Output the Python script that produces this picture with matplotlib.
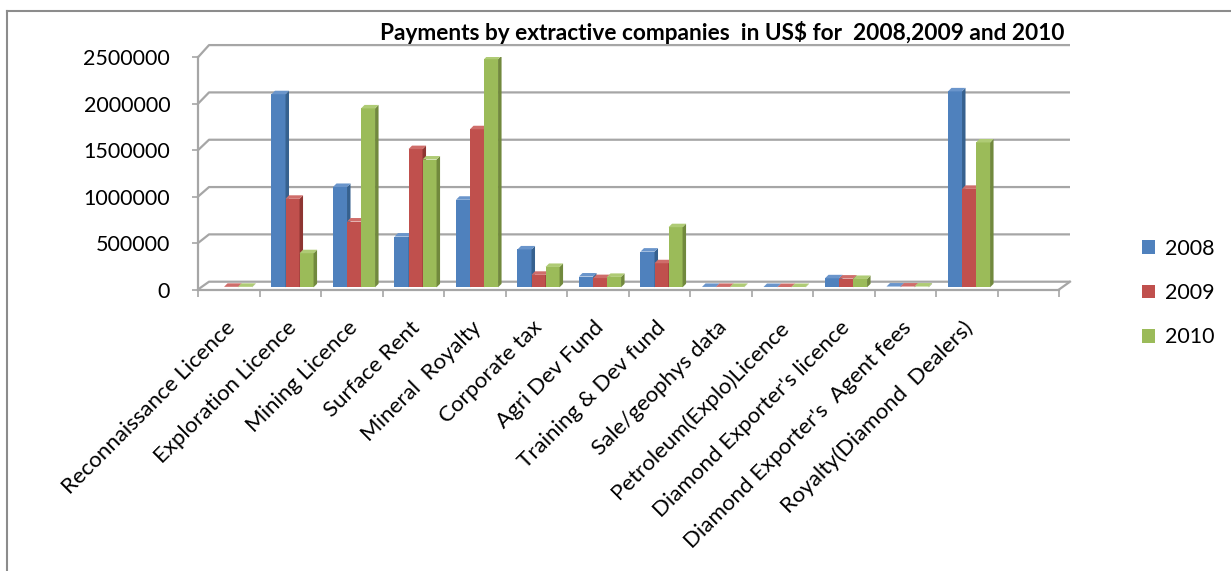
import numpy as np
import matplotlib
matplotlib.use("Agg")
from matplotlib import pyplot as plt
from matplotlib.patches import Polygon, Patch
from matplotlib.lines import Line2D
from matplotlib.transforms import ScaledTranslation

categories = ["Reconnaissance Licence", "Exploration Licence", "Mining Licence",
              "Surface Rent", "Mineral  Royalty", "Corporate tax", "Agri Dev Fund",
              "Training & Dev fund", "Sale/geophys data", "Petroleum(Explo)Licence",
              "Diamond Exporter's licence", "Diamond Exporter's  Agent fees",
              "Royalty(Diamond  Dealers)"]
years = ["2008", "2009", "2010"]
pay_2008 = [0, 2040000, 1060000, 536000, 925000, 400000, 114000, 377000,
            4000, 3000, 95000, 8000, 2070000]
pay_2009 = [5000, 935000, 695000, 1460000, 1670000, 132000, 97000, 254000,
            4000, 3000, 92000, 8000, 1040000]
pay_2010 = [5000, 360000, 1890000, 1350000, 2410000, 215000, 110000, 635000,
            4000, 3000, 88000, 8000, 1530000]
yticks = [0, 500000, 1000000, 1500000, 2000000, 2500000]

front_col = ["#4F81BD", "#C0504D", "#9BBB59"]
side_col = ["#36618F", "#8E3532", "#71893D"]
top_col = ["#6A95CB", "#CF6D6A", "#AFCB75"]
grid_col = "#A6A6A6"

plt.rcParams["font.family"] = ["Lato", "DejaVu Sans"]

W, H = 1231, 571
fig = plt.figure(figsize=(W / 100, H / 100), dpi=100)
ax = fig.add_axes([198 / W, (H - 289.5) / H, 861 / W, 232.2 / H])
nslot = 14
ax.set_xlim(0, nslot)
ax.set_ylim(0, 2500000)
ax.patch.set_visible(False)

# pixel -> data
px_x = nslot / 861
px_y = 2500000 / 232.2

# back wall
bx = 11 * px_x
back_y0 = 7.8 * px_y
back_k = 1.019
def back(v):
    return back_y0 + v * back_k

for v in yticks:
    ax.plot([0, bx, nslot + bx], [v, back(v), back(v)], color=grid_col,
            lw=1.6, zorder=1, clip_on=False, solid_capstyle="butt")
ax.plot([nslot, nslot + bx], [0, back(0)], color=grid_col, lw=1.6, zorder=1,
        clip_on=False)

# bars
bar_y0 = 2.2 * px_y
bw = 0.228
off = 0.195
dx = 3.5 * px_x
dy = 3.5 * px_y
series = [pay_2008, pay_2009, pay_2010]
for i in range(len(categories)):
    for s, vals in enumerate(series):
        v = vals[i]
        if v <= 0:
            continue
        x0 = i + off + s * bw
        y1 = bar_y0 + v * back_k
        ax.add_patch(Polygon([(x0, bar_y0), (x0 + bw, bar_y0), (x0 + bw, y1), (x0, y1)],
                             closed=True, fc=front_col[s], ec="none", zorder=3))
        ax.add_patch(Polygon([(x0 + bw, bar_y0), (x0 + bw + dx, bar_y0 + dy),
                              (x0 + bw + dx, y1 + dy), (x0 + bw, y1)],
                             closed=True, fc=side_col[s], ec="none", zorder=3))
        ax.add_patch(Polygon([(x0, y1), (x0 + bw, y1), (x0 + bw + dx, y1 + dy),
                              (x0 + dx, y1 + dy)],
                             closed=True, fc=top_col[s], ec="none", zorder=3))

# axes look
for side in ["top", "right"]:
    ax.spines[side].set_visible(False)
for side in ["left", "bottom"]:
    ax.spines[side].set_color(grid_col)
    ax.spines[side].set_linewidth(1.6)
ax.set_yticks(yticks, [str(v) for v in yticks])
ax.tick_params(axis="y", length=4, width=1.2, color=grid_col, pad=16, labelsize=15.5)
ax.set_xticks(np.arange(len(categories)) + 0.5)
ax.set_xticklabels(categories, rotation=45, ha="right", rotation_mode="anchor",
                   fontsize=16)
ax.set_xticks(np.arange(nslot + 1), minor=True)
ax.tick_params(axis="x", which="major", length=0, pad=20)
ax.tick_params(axis="x", which="minor", length=5, width=1.2, color=grid_col)
shift = ScaledTranslation(-4 / 100, 0, fig.dpi_scale_trans)
for lab in ax.get_xticklabels():
    lab.set_transform(lab.get_transform() + shift)

# title
fig.text(1065 / W, 1 - 32 / H,
         "Payments by extractive companies  in US$ for  2008,2009 and 2010",
         ha="right", va="center", fontsize=16.3, fontweight="bold")

# legend
handles = [Patch(fc=c, ec="none") for c in front_col]
fig.legend(handles, years, loc="center left", bbox_to_anchor=(1142 / W, 1 - 293 / H),
           frameon=False, fontsize=15.5, handlelength=0.6, handleheight=0.6,
           handletextpad=0.45, labelspacing=1.13, borderpad=0, borderaxespad=0)

# chart frame
fig.add_artist(Line2D([7 / W, 7 / W], [0, 1 - 11 / H], color="#8C8C8C", lw=1.5))
fig.add_artist(Line2D([7 / W, 1], [1 - 11 / H, 1 - 11 / H], color="#8C8C8C", lw=1.5))

plt.savefig("out.png", dpi=100)
